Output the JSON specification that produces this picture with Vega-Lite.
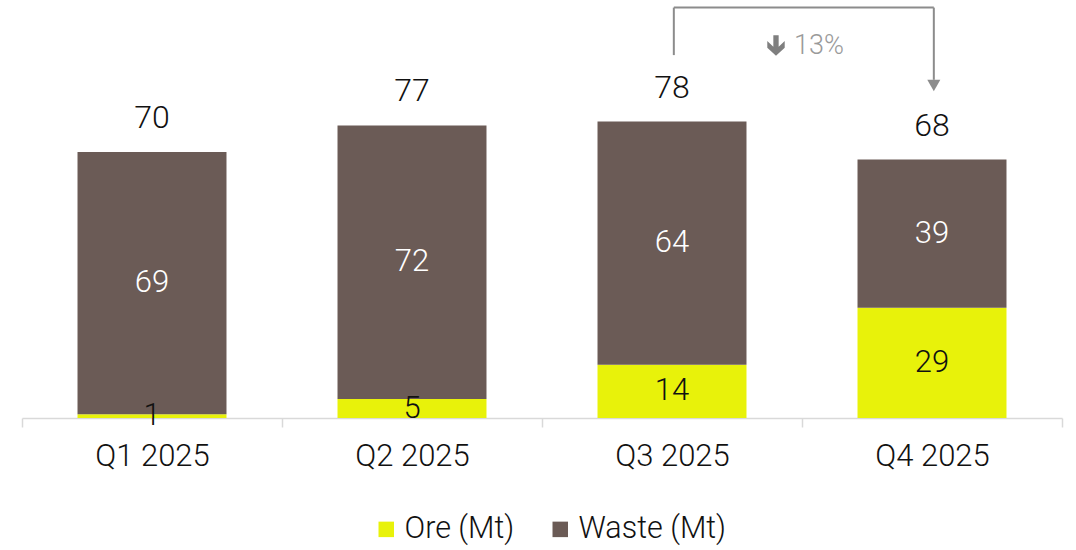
{
  "$schema": "https://vega.github.io/schema/vega-lite/v6.json",
  "autosize": "none",
  "width": 1040,
  "height": 418,
  "padding": {"left": 22, "top": 0, "right": 14, "bottom": 132},
  "background": "white",
  "config": {
    "view": {"stroke": null},
    "font": "Roboto",
    "text": {"font": "Roboto", "fontWeight": 300}
  },
  "datasets": {
    "bars": [
      {"quarter": "Q1 2025", "series": "Ore (Mt)", "value": 1},
      {"quarter": "Q1 2025", "series": "Waste (Mt)", "value": 69},
      {"quarter": "Q2 2025", "series": "Ore (Mt)", "value": 5},
      {"quarter": "Q2 2025", "series": "Waste (Mt)", "value": 72},
      {"quarter": "Q3 2025", "series": "Ore (Mt)", "value": 14},
      {"quarter": "Q3 2025", "series": "Waste (Mt)", "value": 64},
      {"quarter": "Q4 2025", "series": "Ore (Mt)", "value": 29},
      {"quarter": "Q4 2025", "series": "Waste (Mt)", "value": 39}
    ],
    "totals": [
      {"quarter": "Q1 2025", "total": 70},
      {"quarter": "Q2 2025", "total": 77},
      {"quarter": "Q3 2025", "total": 78},
      {"quarter": "Q4 2025", "total": 68}
    ],
    "vlines": [
      {"quarter": "Q3 2025", "low": 95.5, "high": 108},
      {"quarter": "Q4 2025", "low": 89, "high": 108}
    ],
    "hline": [{"from": "Q3 2025", "to": "Q4 2025", "level": 108}],
    "arrowhead": [{"quarter": "Q4 2025", "level": 87.5}],
    "note": [{"quarter": "Q3 2025", "level": 98, "label": "13%"}]
  },
  "layer": [
    {
      "data": {"name": "bars"},
      "transform": [
        {"stack": "value", "groupby": ["quarter"], "sort": [{"field": "series", "order": "ascending"}], "as": ["v0", "v1"]}
      ],
      "mark": {"type": "bar", "width": {"band": 0.573}},
      "encoding": {
        "x": {
          "field": "quarter", "type": "nominal", "title": null,
          "scale": {"paddingInner": 0, "paddingOuter": 0},
          "axis": {
            "labelAngle": 0, "labelFontSize": 31, "labelColor": "#111111", "labelFont": "Roboto",
            "labelFontWeight": 300, "labelPadding": 14,
            "domainColor": "#d9d9d9", "domainWidth": 1.5, "tickColor": "#d9d9d9", "tickWidth": 1.5,
            "tickSize": 9, "tickBand": "extent"
          }
        },
        "y": {"field": "v1", "type": "quantitative", "scale": {"domain": [0, 110], "nice": false}, "axis": null},
        "y2": {"field": "v0"},
        "color": {
          "field": "series", "type": "nominal",
          "scale": {"domain": ["Ore (Mt)", "Waste (Mt)"], "range": ["#e8f20a", "#6b5b56"]},
          "legend": {
            "title": null, "orient": "none", "direction": "horizontal", "legendX": 349, "legendY": 514,
            "symbolType": "square", "symbolSize": 240, "symbolStrokeWidth": 0, "symbolOpacity": 1,
            "labelFontSize": 30.5, "labelFont": "Roboto", "labelFontWeight": 300, "labelColor": "#111111",
            "columnPadding": 30, "labelOffset": 3
          }
        }
      }
    },
    {
      "data": {"name": "bars"},
      "transform": [
        {"stack": "value", "groupby": ["quarter"], "sort": [{"field": "series", "order": "ascending"}], "as": ["v0", "v1"]},
        {"calculate": "(datum.v0 + datum.v1) / 2", "as": "mid"}
      ],
      "mark": {"type": "text", "fontSize": 31, "baseline": "middle", "align": "center"},
      "encoding": {
        "x": {"field": "quarter", "type": "nominal"},
        "y": {"field": "mid", "type": "quantitative"},
        "text": {"field": "value", "type": "quantitative"},
        "color": {
          "condition": {"test": "datum.series === 'Waste (Mt)'", "value": "#ffffff"},
          "value": "#111111"
        }
      }
    },
    {
      "data": {"name": "totals"},
      "mark": {"type": "text", "fontSize": 32, "baseline": "alphabetic", "align": "center", "dy": -24, "color": "#111111"},
      "encoding": {
        "x": {"field": "quarter", "type": "nominal"},
        "y": {"field": "total", "type": "quantitative"},
        "text": {"field": "total", "type": "quantitative"}
      }
    },
    {
      "data": {"name": "vlines"},
      "mark": {"type": "rule", "color": "#8c8c8c", "strokeWidth": 2},
      "encoding": {
        "x": {"field": "quarter", "type": "nominal", "bandPosition": 0.507},
        "y": {"field": "low", "type": "quantitative"},
        "y2": {"field": "high"}
      }
    },
    {
      "data": {"name": "hline"},
      "mark": {"type": "rule", "color": "#8c8c8c", "strokeWidth": 2},
      "encoding": {
        "x": {"field": "from", "type": "nominal", "bandPosition": 0.507},
        "x2": {"field": "to", "bandPosition": 0.507},
        "y": {"field": "level", "type": "quantitative"}
      }
    },
    {
      "data": {"name": "arrowhead"},
      "mark": {"type": "point", "shape": "triangle-down", "filled": true, "color": "#8c8c8c", "size": 170, "opacity": 1},
      "encoding": {
        "x": {"field": "quarter", "type": "nominal", "bandPosition": 0.507},
        "y": {"field": "level", "type": "quantitative"}
      }
    },
    {
      "data": {"name": "note"},
      "mark": {
        "type": "point", "filled": true, "color": "#7f7f7f", "size": 420, "opacity": 1,
        "shape": "M-0.26,-1 L0.26,-1 L0.26,0.1 L0.85,-0.45 L0.85,0.2 L0,1 L-0.85,0.2 L-0.85,-0.45 L-0.26,0.1 Z"
      },
      "encoding": {
        "x": {"field": "quarter", "type": "nominal", "bandPosition": 0.9},
        "y": {"field": "level", "type": "quantitative"}
      }
    },
    {
      "data": {"name": "note"},
      "mark": {"type": "text", "fontSize": 27, "align": "left", "baseline": "middle", "color": "#9a9a9a", "dx": -8},
      "encoding": {
        "x": {"field": "quarter", "type": "nominal", "bandPosition": 1},
        "y": {"field": "level", "type": "quantitative"},
        "text": {"field": "label", "type": "nominal"}
      }
    }
  ]
}
